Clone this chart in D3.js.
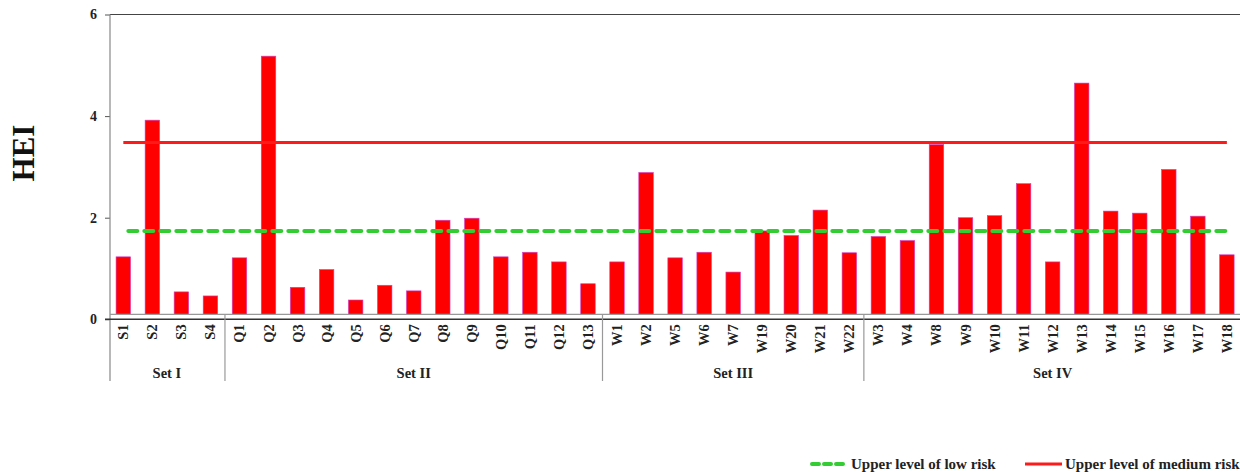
<!DOCTYPE html>
<html>
<head>
<meta charset="utf-8">
<title>HEI</title>
<script src="https://d3js.org/d3.v7.min.js"></script>
<style>
  body { margin: 0; overflow: hidden; background: #fff; }
  svg text { font-family: "Liberation Serif", "DejaVu Serif", serif; font-weight: bold; }
</style>
</head>
<body>
<svg></svg>
<script>
const samples = ["S1","S2","S3","S4",
  "Q1","Q2","Q3","Q4","Q5","Q6","Q7","Q8","Q9","Q10","Q11","Q12","Q13",
  "W1","W2","W5","W6","W7","W19","W20","W21","W22",
  "W3","W4","W8","W9","W10","W11","W12","W13","W14","W15","W16","W17","W18"];
const hei = [1.23, 3.92, 0.54, 0.46,
  1.21, 5.18, 0.63, 0.98, 0.38, 0.67, 0.56, 1.95, 1.99, 1.23, 1.32, 1.13, 0.70,
  1.13, 2.89, 1.21, 1.32, 0.93, 1.74, 1.65, 2.15, 1.31,
  1.63, 1.55, 3.44, 2.00, 2.04, 2.67, 1.13, 4.65, 2.13, 2.09, 2.95, 2.03, 1.27];
const setNames = ["Set I", "Set II", "Set III", "Set IV"];
const setSizes = [4, 13, 9, 13];
const yTicks = [0, 2, 4, 6];
const lowRisk = 1.74;
const mediumRisk = 3.48;

const width = 1240, height = 472;
const svg = d3.select("svg").attr("width", width).attr("height", height);

const x = d3.scaleBand().domain(samples).range([108.8, 1241.4])
  .paddingInner(0.5).paddingOuter(0.25);
const step = x.step();
const y = d3.scaleLinear().domain([0, 6]).range([319.3, 14.5]);
const baseY = y(0) - 5;   // grey category line the bars stand on

// top frame line
svg.append("line").attr("x1", 110).attr("x2", width).attr("y1", y(6)).attr("y2", y(6))
  .attr("stroke", "#444").attr("stroke-width", 1.2);

// y axis
const yAxis = svg.append("g").attr("transform", "translate(110,0)")
  .call(d3.axisLeft(y).tickValues(yTicks).tickSize(5).tickPadding(8).tickFormat(d3.format("d")));
yAxis.select(".domain").remove();
yAxis.selectAll(".tick line").attr("stroke", "#555");
yAxis.selectAll(".tick text").attr("font-size", 14).attr("fill", "#222");
svg.append("line").attr("x1", 110).attr("x2", 110).attr("y1", y(6)).attr("y2", 381)
  .attr("stroke", "#888").attr("stroke-width", 1.2);

// bars
svg.append("g").selectAll("rect").data(samples).join("rect")
  .attr("x", d => x(d))
  .attr("width", x.bandwidth())
  .attr("y", (d, i) => y(hei[i]))
  .attr("height", (d, i) => baseY - y(hei[i]))
  .attr("fill", "#ff0000")
  .attr("stroke", "#d040d0").attr("stroke-width", 0.6);

// category axis lines
svg.append("line").attr("x1", 110).attr("x2", width).attr("y1", baseY).attr("y2", baseY)
  .attr("stroke", "#999").attr("stroke-width", 1.2);
svg.append("line").attr("x1", 105).attr("x2", width).attr("y1", y(0)).attr("y2", y(0))
  .attr("stroke", "#333").attr("stroke-width", 1.5);

// rotated sample labels
svg.append("g").selectAll("text").data(samples).join("text")
  .attr("transform", d => `translate(${x(d) + x.bandwidth() / 2 + 5},${y(0) + 5}) rotate(-90)`)
  .attr("text-anchor", "end")
  .attr("font-size", 14.5)
  .attr("fill", "#222")
  .text(d => d);

// set groups
let start = 0;
setNames.forEach((name, k) => {
  const first = samples[start], last = samples[start + setSizes[k] - 1];
  const x0 = x(first) - step * 0.25, x1 = x(last) + x.bandwidth() + step * 0.25;
  if (k > 0) {
    svg.append("line").attr("x1", x0).attr("x2", x0).attr("y1", baseY).attr("y2", 381)
      .attr("stroke", "#999").attr("stroke-width", 1.2);
  }
  svg.append("text").attr("x", (x0 + x1) / 2).attr("y", 378)
    .attr("text-anchor", "middle").attr("font-size", 14.5).attr("fill", "#222")
    .text(name);
  start += setSizes[k];
});

// risk lines
const cFirst = x(samples[0]) + x.bandwidth() / 2;
const cLast = x(samples[samples.length - 1]) + x.bandwidth() / 2;
svg.append("line").attr("x1", cFirst).attr("x2", cLast).attr("y1", y(mediumRisk)).attr("y2", y(mediumRisk))
  .attr("stroke", "#ff1a1a").attr("stroke-width", 3);
svg.append("line").attr("x1", cFirst + 5).attr("x2", cLast).attr("y1", y(lowRisk)).attr("y2", y(lowRisk))
  .attr("stroke", "#33cc33").attr("stroke-width", 4)
  .attr("stroke-dasharray", "9 7").attr("stroke-linecap", "round");

// y title
svg.append("text").attr("transform", "translate(34,153) rotate(-90)")
  .attr("text-anchor", "middle").attr("font-size", 31).attr("fill", "#111")
  .text("HEI");

// legend
const legend = svg.append("g");
legend.append("line").attr("x1", 812).attr("x2", 847).attr("y1", 464).attr("y2", 464)
  .attr("stroke", "#33cc33").attr("stroke-width", 4)
  .attr("stroke-dasharray", "7 5").attr("stroke-linecap", "round");
legend.append("text").attr("x", 851).attr("y", 469).attr("font-size", 15).attr("fill", "#222")
  .text("Upper level of low risk");
legend.append("line").attr("x1", 1025).attr("x2", 1062).attr("y1", 464).attr("y2", 464)
  .attr("stroke", "#ff1a1a").attr("stroke-width", 3);
legend.append("text").attr("x", 1065).attr("y", 469).attr("font-size", 15).attr("fill", "#222")
  .text("Upper level of medium risk");
</script>
</body>
</html>
